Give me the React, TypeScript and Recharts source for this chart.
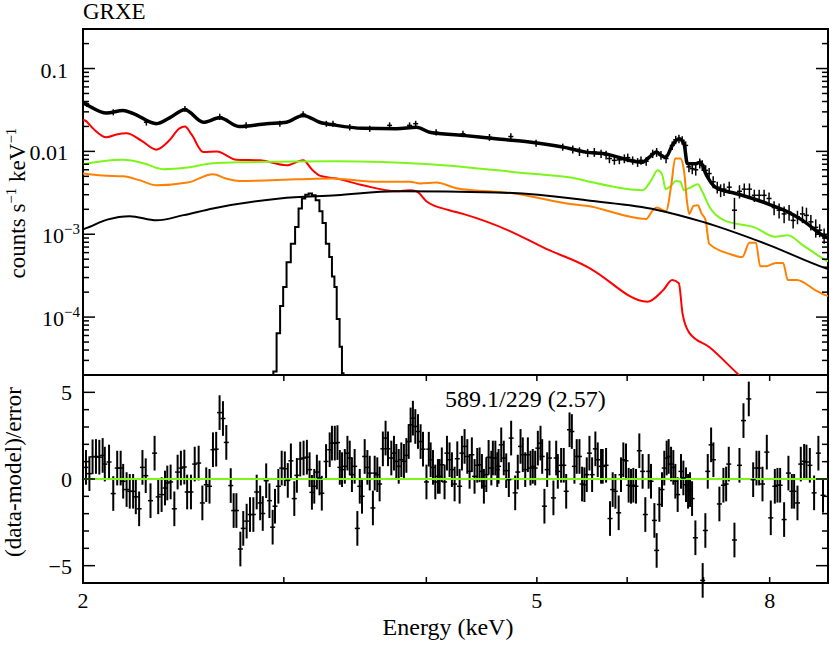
import React from "react";
import {
  ComposedChart,
  Line,
  Scatter,
  XAxis,
  YAxis,
  ErrorBar,
  ReferenceLine,
  ReferenceArea,
} from "recharts";

const FONT = "Liberation Serif, Times New Roman, Times, serif";
const PLOT_W = 745;
const TOP_H = 346;
const BOT_H = 208;

const RED = "#ff0000";
const GREEN = "#7cf51a";
const ORANGE = "#ff8000";

// energy axis (keV)
const ENERGY_TICKS = [2, 3, 4, 5, 6, 7, 8, 9];
const ENERGY_LABELS = [2, 5, 8];

// flux axis (counts s^-1 keV^-1)
const FLUX_TICKS = [
  2e-5, 3e-5, 4e-5, 5e-5, 6e-5, 7e-5, 8e-5, 9e-5,
  1e-4, 2e-4, 3e-4, 4e-4, 5e-4, 6e-4, 7e-4, 8e-4, 9e-4,
  1e-3, 2e-3, 3e-3, 4e-3, 5e-3, 6e-3, 7e-3, 8e-3, 9e-3,
  0.01, 0.02, 0.03, 0.04, 0.05, 0.06, 0.07, 0.08, 0.09,
  0.1, 0.2, 0.3,
];
const FLUX_LABELS = [
  { value: 0.1, text: "0.1", exp: "" },
  { value: 0.01, text: "0.01", exp: "" },
  { value: 1e-3, text: "10", exp: "−3" },
  { value: 1e-4, text: "10", exp: "−4" },
];

// residual axis
const RESID_TICKS = [-6, -5, -4, -3, -2, -1, 0, 1, 2, 3, 4, 5, 6];
const RESID_LABELS = [
  { value: 5, text: "5" },
  { value: 0, text: "0" },
  { value: -5, text: "−5" },
];
const RESID_SIGMA = 1;

// model components [keV, counts/s/keV]
const TOTAL_MODEL = [
  [2.0, 0.0385], [2.008, 0.0375], [2.097, 0.029], [2.169, 0.0312], [2.212, 0.0288],
  [2.32, 0.0216], [2.382, 0.0254], [2.457, 0.0318], [2.55, 0.0225], [2.636, 0.0254],
  [2.74, 0.02], [2.897, 0.0216], [3.016, 0.0225], [3.119, 0.0272], [3.225, 0.0225],
  [3.336, 0.0206], [3.518, 0.019], [3.765, 0.0188], [3.921, 0.0196], [4.027, 0.017],
  [4.307, 0.0156], [4.603, 0.0142], [4.926, 0.013], [5.268, 0.0113], [5.524, 0.0098],
  [5.711, 0.0094], [6.19, 0.0074], [6.273, 0.0085], [6.365, 0.0098], [6.42, 0.009],
  [6.485, 0.0085], [6.572, 0.0118], [6.661, 0.0142], [6.729, 0.0124], [6.775, 0.0071],
  [6.891, 0.0071], [6.96, 0.0074], [7.03, 0.0054], [7.17, 0.0037], [7.47, 0.0031],
  [7.73, 0.0027], [7.99, 0.0023], [8.27, 0.0019], [8.55, 0.00147], [8.95, 0.00093],
  [9.0, 0.0009],
];

const LOW_KT = [
  [2.0, 0.024], [2.008, 0.0236], [2.04, 0.019], [2.097, 0.0148], [2.14, 0.016],
  [2.184, 0.0165], [2.25, 0.0135], [2.32, 0.0105], [2.38, 0.0135], [2.43, 0.019],
  [2.457, 0.02], [2.49, 0.016], [2.55, 0.0098], [2.62, 0.01], [2.727, 0.0079],
  [2.858, 0.0078], [3.016, 0.0068], [3.119, 0.0078], [3.18, 0.0059], [3.225, 0.0051],
  [3.336, 0.0047], [3.52, 0.0039], [3.765, 0.0033], [3.867, 0.0034], [3.921, 0.0033],
  [4.0, 0.0025], [4.19, 0.00195], [4.307, 0.00176], [4.73, 0.0011], [5.09, 0.00067],
  [5.524, 0.00041], [5.597, 0.00037], [6.25, 0.000153], [6.45, 0.00021], [6.572, 0.00028],
  [6.66, 0.000256], [6.71, 0.00011], [6.8, 0.000065], [7.09, 0.000043], [7.52, 0.00002],
  [7.7, 0.000015],
];

const HIGH_KT = [
  [2.0, 0.007], [2.08, 0.0076], [2.169, 0.0079], [2.26, 0.0072], [2.35, 0.0061],
  [2.47, 0.0064], [2.6, 0.0072], [2.78, 0.0074], [3.336, 0.0076], [4.027, 0.007],
  [4.926, 0.0054], [5.372, 0.0048], [5.524, 0.0044], [6.19, 0.0034], [6.3, 0.0045],
  [6.38, 0.0059], [6.44, 0.0052], [6.485, 0.0035], [6.55, 0.0038], [6.62, 0.0044],
  [6.68, 0.0043], [6.73, 0.0034], [6.8, 0.0036], [6.92, 0.004], [6.98, 0.0033],
  [7.09, 0.0021], [7.3, 0.00147], [7.76, 0.00121], [8.09, 0.00093], [8.3, 0.00097],
  [8.55, 0.00074], [8.95, 0.00049], [9.0, 0.00047],
];

const MID_KT = [
  [2.0, 0.0054], [2.08, 0.0051], [2.169, 0.005], [2.24, 0.0045], [2.32, 0.0039],
  [2.47, 0.0042], [2.6, 0.0053], [2.67, 0.0047], [2.74, 0.0044], [3.09, 0.0046],
  [3.3, 0.0047], [3.64, 0.0043], [3.87, 0.0043], [3.95, 0.0041], [4.08, 0.0042],
  [4.25, 0.0036], [4.78, 0.0031], [5.372, 0.0023], [5.524, 0.0022], [6.235, 0.00153],
  [6.31, 0.0019], [6.368, 0.0021], [6.49, 0.0019], [6.56, 0.004], [6.61, 0.0082],
  [6.68, 0.0082], [6.729, 0.0059], [6.77, 0.0025], [6.8, 0.00176], [6.86, 0.0022],
  [6.92, 0.00224], [6.97, 0.0018], [7.03, 0.00147], [7.08, 0.00077], [7.373, 0.00058],
  [7.57, 0.00053], [7.68, 0.00079], [7.78, 0.00079], [7.85, 0.00041], [7.94, 0.00041],
  [8.1, 0.00045], [8.22, 0.00045], [8.3, 0.00028], [8.45, 0.00028], [8.78, 0.00021],
  [8.95, 0.000184], [9.0, 0.00018],
];

const HARD_CONT = [
  [2.0, 0.00115], [2.008, 0.00117], [2.1, 0.0015], [2.198, 0.00165], [2.32, 0.00147],
  [2.45, 0.0017], [2.6, 0.00205], [2.976, 0.0027], [3.336, 0.00295], [3.765, 0.0033],
  [4.603, 0.0032], [5.372, 0.0027], [5.524, 0.00257], [6.36, 0.00198], [6.99, 0.00141],
  [7.99, 0.00074], [8.95, 0.00039], [9.0, 0.00038],
];

const GAUSS_LINE = [
  [2.93, 1e-6], [2.944, 2.2e-5], [2.969, 6.4e-5], [2.986, 1.36e-4], [3.006, 2.3e-4],
  [3.027, 4.6e-4], [3.058, 7.7e-4], [3.08, 1.22e-3], [3.101, 2.05e-3], [3.122, 2.7e-3],
  [3.143, 3.0e-3], [3.165, 3.1e-3], [3.186, 2.95e-3], [3.212, 2.57e-3], [3.235, 1.9e-3],
  [3.252, 1.37e-3], [3.279, 7.7e-4], [3.297, 5.3e-4], [3.315, 3.1e-4], [3.33, 2.3e-4],
  [3.346, 9.5e-5], [3.369, 4.4e-5], [3.378, 2.1e-5], [3.39, 1e-6],
];

// observed spectrum [keV, counts/s/keV, error]
const SPECTRUM = [
  [2.015, 0.0375, 0.003], [2.126, 0.0297, 0.0025], [2.273, 0.0225, 0.002], [2.457, 0.0327, 0.0027],
  [2.636, 0.0262, 0.0022], [2.78, 0.0206, 0.0018], [2.976, 0.0216, 0.0018], [3.119, 0.0282, 0.0023],
  [3.269, 0.0216, 0.0018], [3.313, 0.0216, 0.0018], [3.427, 0.0196, 0.0017], [3.568, 0.0188, 0.0016],
  [3.714, 0.0206, 0.0018], [3.867, 0.0206, 0.0018], [3.915, 0.0216, 0.0018], [4.08, 0.017, 0.0015],
  [4.307, 0.0163, 0.0015], [4.544, 0.0148, 0.0014], [4.744, 0.0151, 0.0014], [4.992, 0.0126, 0.0012],
  [5.268, 0.0113, 0.0011], [5.376, 0.0106, 0.0012], [5.449, 0.01, 0.0012], [5.54, 0.0096, 0.0011],
  [5.615, 0.0098, 0.0012], [5.692, 0.0094, 0.0011], [5.75, 0.0091, 0.0011], [5.789, 0.0082, 0.001],
  [5.847, 0.0078, 0.0009], [5.906, 0.0079, 0.0009], [5.966, 0.0082, 0.001], [6.007, 0.0084, 0.001],
  [6.067, 0.0078, 0.0009], [6.128, 0.0074, 0.0009], [6.17, 0.0078, 0.0009], [6.235, 0.0076, 0.0009],
  [6.317, 0.0094, 0.0011], [6.368, 0.0098, 0.0012], [6.424, 0.009, 0.0011], [6.49, 0.0082, 0.001],
  [6.572, 0.0118, 0.0014], [6.618, 0.0138, 0.0016], [6.661, 0.0142, 0.0017], [6.705, 0.0136, 0.0016],
  [6.752, 0.0118, 0.0014], [6.797, 0.0065, 0.0009], [6.843, 0.0062, 0.0009], [6.891, 0.006, 0.0009],
  [6.947, 0.0072, 0.001], [6.982, 0.0068, 0.001], [7.03, 0.0059, 0.0009], [7.08, 0.0054, 0.0009],
  [7.138, 0.0043, 0.0007], [7.197, 0.0037, 0.0006], [7.246, 0.0034, 0.0006], [7.296, 0.0035, 0.0006],
  [7.373, 0.0037, 0.0006], [7.451, 0.00195, 0.0008], [7.527, 0.0033, 0.0006], [7.6, 0.0035, 0.0006],
  [7.68, 0.0035, 0.0006], [7.756, 0.00295, 0.0005], [7.832, 0.00295, 0.0005], [7.911, 0.00295, 0.0005],
  [7.99, 0.0027, 0.0005], [8.072, 0.0021, 0.0004], [8.154, 0.00195, 0.0004], [8.237, 0.00176, 0.0004],
  [8.32, 0.00185, 0.0004], [8.388, 0.00147, 0.0003], [8.462, 0.00162, 0.0003], [8.548, 0.00176, 0.0004],
  [8.617, 0.00169, 0.0004], [8.694, 0.00141, 0.0003], [8.78, 0.00121, 0.0003], [8.85, 0.00112, 0.0002],
  [8.93, 0.00097, 0.0002],
];

// residuals [keV, (data-model)/error]
const RESID_LOW = [
  [2.012, 0.67], [2.026, 0.31], [2.039, 1.28], [2.053, 1.3], [2.067, 1.26], [2.081, 1.36],
  [2.09, 0.86], [2.108, 0.98], [2.126, -0.84], [2.143, 0.63], [2.158, 0.63], [2.169, -0.13],
  [2.184, -0.61], [2.198, -0.71], [2.213, -0.71], [2.225, -1.03], [2.24, -1.72], [2.255, 0.67],
  [2.27, 0.19], [2.292, -1.25], [2.311, 1.49], [2.328, -1.03], [2.344, -0.9], [2.36, -0.52],
  [2.371, -0.23], [2.387, -0.17], [2.405, -1.72], [2.421, 0.4], [2.437, 0.63], [2.454, 0.69],
  [2.468, -0.75], [2.487, -0.75], [2.506, 0.86], [2.526, 0.92], [2.545, -1.38], [2.565, -0.33],
  [2.582, -0.42], [2.6, 1.69], [2.617, 1.72], [2.635, 3.83], [2.653, 3.49], [2.671, 2.11],
  [2.695, -0.38], [2.711, -1.82], [2.726, -1.82], [2.748, -4.04], [2.764, -2.85], [2.783, -2.43],
  [2.802, -2.05], [2.821, -2.05], [2.84, -0.75], [2.86, -1.38], [2.875, -1.99], [2.895, -0.1],
  [2.914, -1.25], [2.933, -2.78], [2.947, -1.57], [2.967, -0.42], [2.987, 0.63], [3.006, 0.59],
  [3.024, -0.08], [3.043, 1.05], [3.064, -1.13], [3.08, 0.21], [3.101, 1.15], [3.122, 1.21],
  [3.143, 1.26], [3.16, 0.54], [3.175, -0.77], [3.19, -0.42], [3.207, 0.4], [3.224, 0.06],
  [3.239, -0.82], [3.267, 1.01],
];

const RESID_MID = [
  [3.291, 1.69], [3.306, 2.07], [3.325, 2.07], [3.343, 2.1], [3.359, 0.67], [3.374, 0.54],
  [3.393, 0.73], [3.411, 1.49], [3.427, 1.21], [3.442, 0.25], [3.461, 0.73], [3.48, -2.85],
  [3.497, -0.42], [3.513, -1.0], [3.532, 1.3], [3.551, 0.67], [3.568, 0.34], [3.591, -1.67],
  [3.604, 0.34], [3.623, 0.25], [3.64, -0.29], [3.664, 1.74], [3.684, 2.36], [3.702, 1.74],
  [3.727, 1.21], [3.747, 1.49], [3.765, 1.02], [3.783, 0.73], [3.803, 1.11], [3.823, 1.02],
  [3.842, 1.36], [3.86, 2.16], [3.875, 3.12], [3.893, 3.51], [3.912, 3.03], [3.933, 2.74],
  [3.954, 2.16], [3.973, 1.72], [4.001, -0.17], [4.02, 1.72], [4.035, 1.11], [4.054, 0.67],
  [4.073, -0.17], [4.095, 0.15], [4.109, 0.15], [4.127, 0.82], [4.15, -0.17], [4.17, 1.49],
  [4.192, 1.11], [4.212, 0.54], [4.235, -0.29], [4.258, 1.17], [4.278, -0.42], [4.298, 1.49],
  [4.321, 1.88], [4.345, 1.3], [4.365, 0.44], [4.385, 1.4], [4.409, 0.15], [4.433, 0.79],
  [4.454, 0.82], [4.475, 0.44], [4.493, -0.42], [4.515, 0.25], [4.536, 1.25], [4.561, 0.63],
  [4.575, 1.21], [4.598, 1.21], [4.616, 0.54], [4.628, 0.73], [4.653, 1.97], [4.677, 1.21],
  [4.7, 0.48], [4.725, -0.04], [4.747, 2.36], [4.786, -0.8], [4.811, 0.4], [4.838, 1.88],
  [4.86, 1.4], [4.884, 0.54], [4.91, 1.4], [4.936, 0.63], [4.959, 0.73], [4.983, 0.63],
  [5.01, 1.78], [5.037, 2.07], [5.054, 1.3], [5.077, -1.57], [5.105, 0.54], [5.129, 1.21],
  [5.17, -1.09], [5.199, 1.21], [5.216, 0.44], [5.251, 0.79], [5.279, 0.79], [5.305, -0.71],
  [5.341, 2.84], [5.366, 2.74],
];

const RESID_HIGH = [
  [5.394, 0.73], [5.419, 1.3], [5.449, 1.3], [5.478, -0.29], [5.504, -0.33], [5.53, 0.25],
  [5.56, 1.49], [5.59, 0.25], [5.627, 1.74], [5.654, 1.11], [5.692, 0.73], [5.711, 0.73],
  [5.75, 0.79], [5.796, -2.28], [5.827, -0.61], [5.859, -0.71], [5.898, -1.95], [5.926, 0.25],
  [5.954, 1.11], [5.986, 1.05], [6.018, -0.36], [6.047, -0.42], [6.075, -0.36], [6.108, -0.42],
  [6.149, 1.63], [6.19, 0.44], [6.224, -2.05], [6.266, 0.44], [6.296, -0.13], [6.339, -2.39],
  [6.368, -4.12], [6.403, -1.47], [6.437, -0.61], [6.467, 0.63], [6.498, 1.21], [6.524, 1.3],
  [6.556, 0.86], [6.586, 0.67], [6.613, -0.13], [6.644, -0.9], [6.689, 0.44], [6.721, 0.06],
  [6.757, -0.33], [6.785, -0.71], [6.812, -0.61], [6.84, -1.13], [6.886, -3.39], [6.988, -5.85],
  [7.026, -2.97], [7.06, 0.44], [7.108, 1.97], [7.141, 1.11], [7.228, -1.44], [7.287, -0.36],
  [7.327, -0.29], [7.366, 0.86], [7.451, -3.52], [7.527, 0.79], [7.588, 3.37], [7.67, 4.62],
  [7.738, -0.04], [7.79, 0.63], [7.832, 0.63], [7.885, -0.29], [7.954, 1.55], [8.018, -2.24],
  [8.084, -0.42], [8.127, -0.36], [8.171, -0.36], [8.237, -2.34], [8.309, 0.34], [8.366, -0.71],
  [8.405, -0.71], [8.462, -1.38], [8.519, 0.86], [8.577, 1.02], [8.617, 0.98], [8.676, 0.79],
  [8.751, -0.8], [8.827, 1.49], [8.91, -0.94],
];

const toPoints = (rows: number[][]) => rows.map(([x, y]) => ({ x, y }));
const spectrumPoints = SPECTRUM.map(([x, y, err]) => ({ x, y, err }));
const residPoints = [...RESID_LOW, ...RESID_MID, ...RESID_HIGH].map(([x, y]) => ({
  x,
  y,
  err: RESID_SIGMA,
}));

const textStyle = (size: number) => ({ fontFamily: FONT, fontSize: size, fill: "#000" });

const FluxTick = (props: any) => {
  const { x, y, payload } = props;
  const lab = FLUX_LABELS.find((l) => Math.abs(payload.value / l.value - 1) < 1e-6);
  const len = lab ? 12 : 6;
  return (
    <g>
      <line x1={x} x2={x + len} y1={y} y2={y} stroke="#000" strokeWidth={1.5} />
      <line x1={x + PLOT_W} x2={x + PLOT_W - len} y1={y} y2={y} stroke="#000" strokeWidth={1.5} />
      {lab && (
        <text x={lab.exp ? x - 3 : x - 15} y={y + 9} textAnchor="end" style={textStyle(22)}>
          {lab.text}
          {lab.exp && (
            <tspan dy={-9} style={{ fontSize: 15 }}>
              {lab.exp}
            </tspan>
          )}
        </text>
      )}
    </g>
  );
};

const ResidTick = (props: any) => {
  const { x, y, payload } = props;
  const lab = RESID_LABELS.find((l) => l.value === payload.value);
  const len = lab ? 12 : 6;
  return (
    <g>
      <line x1={x} x2={x + len} y1={y} y2={y} stroke="#000" strokeWidth={1.5} />
      <line x1={x + PLOT_W} x2={x + PLOT_W - len} y1={y} y2={y} stroke="#000" strokeWidth={1.5} />
      {lab && (
        <text x={x - 11} y={y + 8} textAnchor="end" style={textStyle(22)}>
          {lab.text}
        </text>
      )}
    </g>
  );
};

const makeEnergyTick = (panelH: number, withLabels: boolean) => (props: any) => {
  const { x, y, payload } = props;
  const show = withLabels && ENERGY_LABELS.includes(payload.value);
  return (
    <g>
      <line x1={x} x2={x} y1={y} y2={y - 6} stroke="#000" strokeWidth={1.5} />
      <line x1={x} x2={x} y1={y - panelH} y2={y - panelH + 6} stroke="#000" strokeWidth={1.5} />
      {show && (
        <text x={x} y={y + 25} textAnchor="middle" style={textStyle(22)}>
          {payload.value}
        </text>
      )}
    </g>
  );
};
const TopEnergyTick = makeEnergyTick(TOP_H, false);
const BottomEnergyTick = makeEnergyTick(BOT_H, true);

const CrossMark = (props: any) => {
  const { cx, cy } = props;
  if (cx == null || cy == null) return <g />;
  return <line x1={cx - 2.5} x2={cx + 2.5} y1={cy} y2={cy} stroke="#000" strokeWidth={1.5} />;
};

const topLabels = () => (
  <g>
    <text x={83} y={19} style={textStyle(23)}>
      GRXE
    </text>
    <text transform="translate(25,203) rotate(-90)" textAnchor="middle" style={textStyle(23)}>
      counts s
      <tspan dy={-9} style={{ fontSize: 15 }}>
        −1
      </tspan>
      <tspan dy={9}> keV</tspan>
      <tspan dy={-9} style={{ fontSize: 15 }}>
        −1
      </tspan>
    </text>
  </g>
);

const bottomYLabels = () => (
  <g>
    <text transform="translate(21,97) rotate(-90)" textAnchor="middle" style={textStyle(23)}>
      (data-model)/error
    </text>
    <text x={445} y={32} style={textStyle(24)}>
      589.1/229 (2.57)
    </text>
  </g>
);

const bottomXLabel = () => (
  <text x={448} y={260} textAnchor="middle" style={textStyle(24)}>
    Energy (keV)
  </text>
);

const lineProps = {
  type: "monotone" as const,
  dataKey: "y",
  strokeWidth: 2,
  dot: false,
  activeDot: false,
  isAnimationActive: false,
};

export default function App() {
  return (
    <div
      style={{
        position: "absolute",
        left: 0,
        top: 0,
        width: 830,
        height: 645,
        background: "#fff",
        fontFamily: FONT,
      }}
    >
      <div style={{ position: "absolute", left: 0, top: 0 }}>
        <ComposedChart width={830} height={376} margin={{ top: 29, right: 2, bottom: 1, left: 0 }}>
          <XAxis
            dataKey="x"
            type="number"
            scale="log"
            domain={[2, 9]}
            allowDataOverflow
            ticks={ENERGY_TICKS}
            interval={0}
            tick={TopEnergyTick}
            tickLine={false}
            axisLine={false}
            tickSize={0}
            tickMargin={0}
            height={0}
          />
          <YAxis
            dataKey="y"
            type="number"
            scale="log"
            domain={[2e-5, 0.3]}
            allowDataOverflow
            ticks={FLUX_TICKS}
            interval={0}
            tick={FluxTick}
            tickLine={false}
            axisLine={false}
            tickSize={0}
            tickMargin={0}
            width={83}
            label={topLabels}
          />
          <ReferenceArea
            x1={2}
            x2={9}
            y1={2e-5}
            y2={0.3}
            ifOverflow="visible"
            fill="none"
            stroke="#000"
            strokeWidth={2}
          />
          <Line {...lineProps} data={toPoints(LOW_KT)} stroke={RED} />
          <Line {...lineProps} data={toPoints(HIGH_KT)} stroke={GREEN} />
          <Line {...lineProps} data={toPoints(MID_KT)} stroke={ORANGE} />
          <Line {...lineProps} data={toPoints(HARD_CONT)} stroke="#000" />
          <Line {...lineProps} data={toPoints(GAUSS_LINE)} type="step" stroke="#000" />
          <Line {...lineProps} data={toPoints(TOTAL_MODEL)} stroke="#000" strokeWidth={3.5} />
          <Scatter data={spectrumPoints} dataKey="y" shape={CrossMark} isAnimationActive={false}>
            <ErrorBar dataKey="err" direction="y" width={0} stroke="#000" strokeWidth={1.5} />
          </Scatter>
        </ComposedChart>
      </div>
      <div style={{ position: "absolute", left: 0, top: 375 }}>
        <ComposedChart width={830} height={270} margin={{ top: 0, right: 2, bottom: 0, left: 0 }}>
          <XAxis
            dataKey="x"
            type="number"
            scale="log"
            domain={[2, 9]}
            allowDataOverflow
            ticks={ENERGY_TICKS}
            interval={0}
            tick={BottomEnergyTick}
            tickLine={false}
            axisLine={false}
            tickSize={0}
            tickMargin={0}
            height={62}
            label={bottomXLabel}
          />
          <YAxis
            dataKey="y"
            type="number"
            domain={[-6, 6]}
            allowDataOverflow
            ticks={RESID_TICKS}
            interval={0}
            tick={ResidTick}
            tickLine={false}
            axisLine={false}
            tickSize={0}
            tickMargin={0}
            width={83}
            label={bottomYLabels}
          />
          <ReferenceArea
            x1={2}
            x2={9}
            y1={-6}
            y2={6}
            ifOverflow="visible"
            fill="none"
            stroke="#000"
            strokeWidth={2}
          />
          <Scatter data={residPoints} dataKey="y" shape={CrossMark} isAnimationActive={false}>
            <ErrorBar dataKey="err" direction="y" width={0} stroke="#000" strokeWidth={2} />
          </Scatter>
          <ReferenceLine y={0} stroke={GREEN} strokeWidth={2} ifOverflow="visible" />
        </ComposedChart>
      </div>
    </div>
  );
}
